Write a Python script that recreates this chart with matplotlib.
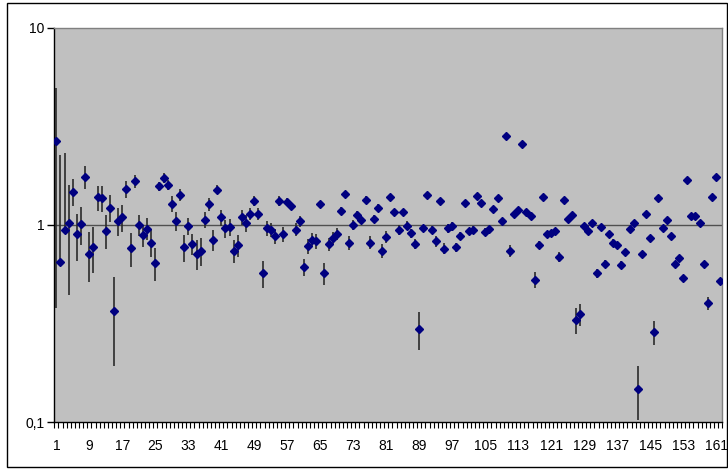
import matplotlib
matplotlib.use("Agg")
import matplotlib.pyplot as plt
from matplotlib.patches import Rectangle
from matplotlib.ticker import FixedLocator, FixedFormatter, NullFormatter

# ratio per sample, with its +/- error (linear, symmetric)
values = [
    2.66, 0.65, 0.947, 1.02, 1.476, 0.894, 1.01, 1.75, 0.715, 0.77,
    1.38, 1.366, 0.936, 1.22, 0.367, 1.047, 1.09, 1.52, 0.762, 1.66,
    1.0, 0.886, 0.958, 0.813, 0.641, 1.57, 1.73, 1.596, 1.278, 1.047,
    1.425, 0.77, 0.988, 0.8, 0.713, 0.74, 1.06, 1.27, 0.839, 1.51,
    1.09, 0.962, 0.973, 0.74, 0.79, 1.093, 1.02, 1.137, 1.32, 1.137,
    0.568, 0.962, 0.947, 0.876, 1.32, 0.897, 1.31, 1.25, 0.947, 1.04,
    0.61, 0.78, 0.839, 0.826, 1.278, 0.568, 0.8, 0.856, 0.9, 1.18,
    1.44, 0.813, 1.0, 1.124, 1.06, 1.344, 0.813, 1.073, 1.22, 0.74,
    0.872, 1.38, 1.16, 0.943, 1.16, 0.992, 0.907, 0.8, 0.296, 0.962,
    1.42, 0.947, 0.826, 1.32, 0.758, 0.962, 0.985, 0.77, 0.882, 1.29,
    0.929, 0.943, 1.40, 1.293, 0.925, 0.951, 1.206, 1.366, 1.04, 2.82,
    0.738, 1.137, 1.187, 2.557, 1.16, 1.107, 0.528, 0.79, 1.38, 0.9,
    0.907, 0.936, 0.69, 1.329, 1.073, 1.124, 0.33, 0.353, 0.992, 0.929,
    1.02, 0.568, 0.973, 0.634, 0.9, 0.813, 0.79, 0.627, 0.727, 0.951,
    1.02, 0.147, 0.71, 1.137, 0.862, 0.285, 1.366, 0.962, 1.06, 0.882,
    0.634, 0.68, 0.536, 1.68, 1.107, 1.107, 1.02, 0.634, 0.40, 1.38,
    1.75, 0.52,
]
errors = [
    2.28, 1.62, 1.37, 0.58, 0.23, 0.24, 0.22, 0.23, 0.2, 0.2,
    0.2, 0.2, 0.18, 0.19, 0.175, 0.17, 0.17, 0.15, 0.15, 0.12,
    0.12, 0.11, 0.12, 0.125, 0.12, 0.08, 0.1, 0.1, 0.12, 0.12,
    0.1, 0.12, 0.1, 0.1, 0.12, 0.12, 0.1, 0.1, 0.1, 0.08,
    0.1, 0.1, 0.1, 0.1, 0.1, 0.1, 0.1, 0.08, 0.08, 0.08,
    0.09, 0.08, 0.08, 0.08, 0.08, 0.08, 0.06, 0.05, 0.07, 0.07,
    0.06, 0.07, 0.07, 0.07, 0.05, 0.07, 0.06, 0.06, 0.06, 0.05,
    0.04, 0.07, 0.06, 0.05, 0.05, 0.05, 0.06, 0.05, 0.05, 0.06,
    0.06, 0.05, 0.05, 0.05, 0.04, 0.05, 0.05, 0.05, 0.065, 0.04,
    0.03, 0.04, 0.05, 0.03, 0.05, 0.05, 0.05, 0.04, 0.04, 0.03,
    0.04, 0.04, 0.03, 0.03, 0.04, 0.04, 0.03, 0.03, 0.04, 0.03,
    0.05, 0.03, 0.03, 0.03, 0.03, 0.03, 0.05, 0.04, 0.03, 0.03,
    0.03, 0.03, 0.04, 0.03, 0.03, 0.03, 0.05, 0.045, 0.03, 0.03,
    0.02, 0.03, 0.02, 0.03, 0.02, 0.03, 0.03, 0.03, 0.03, 0.02,
    0.02, 0.045, 0.03, 0.02, 0.02, 0.04, 0.02, 0.02, 0.02, 0.02,
    0.02, 0.02, 0.02, 0.02, 0.02, 0.02, 0.02, 0.02, 0.03, 0.02,
    0.02, 0.02,
]
samples = list(range(1, len(values) + 1))
tick_labels = [str(i) for i in range(1, 162, 8)]

# lower bar is left out where it would go below zero
err_low = [e if v - e > 0 else 0 for v, e in zip(values, errors)]

plt.rcParams['font.family'] = ['Liberation Sans', 'DejaVu Sans']

fig = plt.figure(figsize=(7.28, 4.70), dpi=100)
ax = fig.add_axes([54.3 / 728, 1 - 422 / 470, (722.3 - 54.3) / 728, (422 - 27.7) / 470])
ax.set_facecolor('#C0C0C0')

ax.errorbar(samples, values, yerr=[err_low, errors], fmt='none',
            ecolor='#2a2a2a', elinewidth=1.2, capsize=0, zorder=2)
ax.plot(samples, values, linestyle='none', marker='D', markersize=4.3,
        color='#000080', markeredgecolor='#000080', zorder=3)

ax.set_yscale('log')
ax.set_ylim(0.1, 10)
ax.set_xlim(0.5, len(values) + 0.5)
ax.axhline(1, color='#505050', linewidth=1, zorder=1)

ax.yaxis.set_major_locator(FixedLocator([0.1, 1, 10]))
ax.yaxis.set_major_formatter(FixedFormatter(['0,1', '1', '10']))
ax.yaxis.set_minor_locator(FixedLocator([]))
ax.tick_params(axis='y', which='major', direction='out', length=5, width=1,
               labelsize=10, pad=2)

ax.xaxis.set_major_locator(FixedLocator(list(range(1, 162, 8))))
ax.xaxis.set_major_formatter(FixedFormatter(tick_labels))
ax.xaxis.set_minor_locator(FixedLocator([k + 0.5 for k in range(0, len(values) + 1)]))
ax.xaxis.set_minor_formatter(NullFormatter())
ax.tick_params(axis='x', which='major', length=0, labelsize=10, pad=12)
ax.tick_params(axis='x', which='minor', direction='out', length=4, width=0.8)

for side in ['left', 'bottom']:
    ax.spines[side].set_color('black')
    ax.spines[side].set_linewidth(1)
for side in ['top', 'right']:
    ax.spines[side].set_color('#808080')
    ax.spines[side].set_linewidth(1)

# outer chart border
fig.patches.append(Rectangle((6.5 / 728, 3 / 470), 720 / 728, 464 / 470,
                             transform=fig.transFigure, fill=False,
                             edgecolor='black', linewidth=1))

fig.savefig('out.png', dpi=100)
